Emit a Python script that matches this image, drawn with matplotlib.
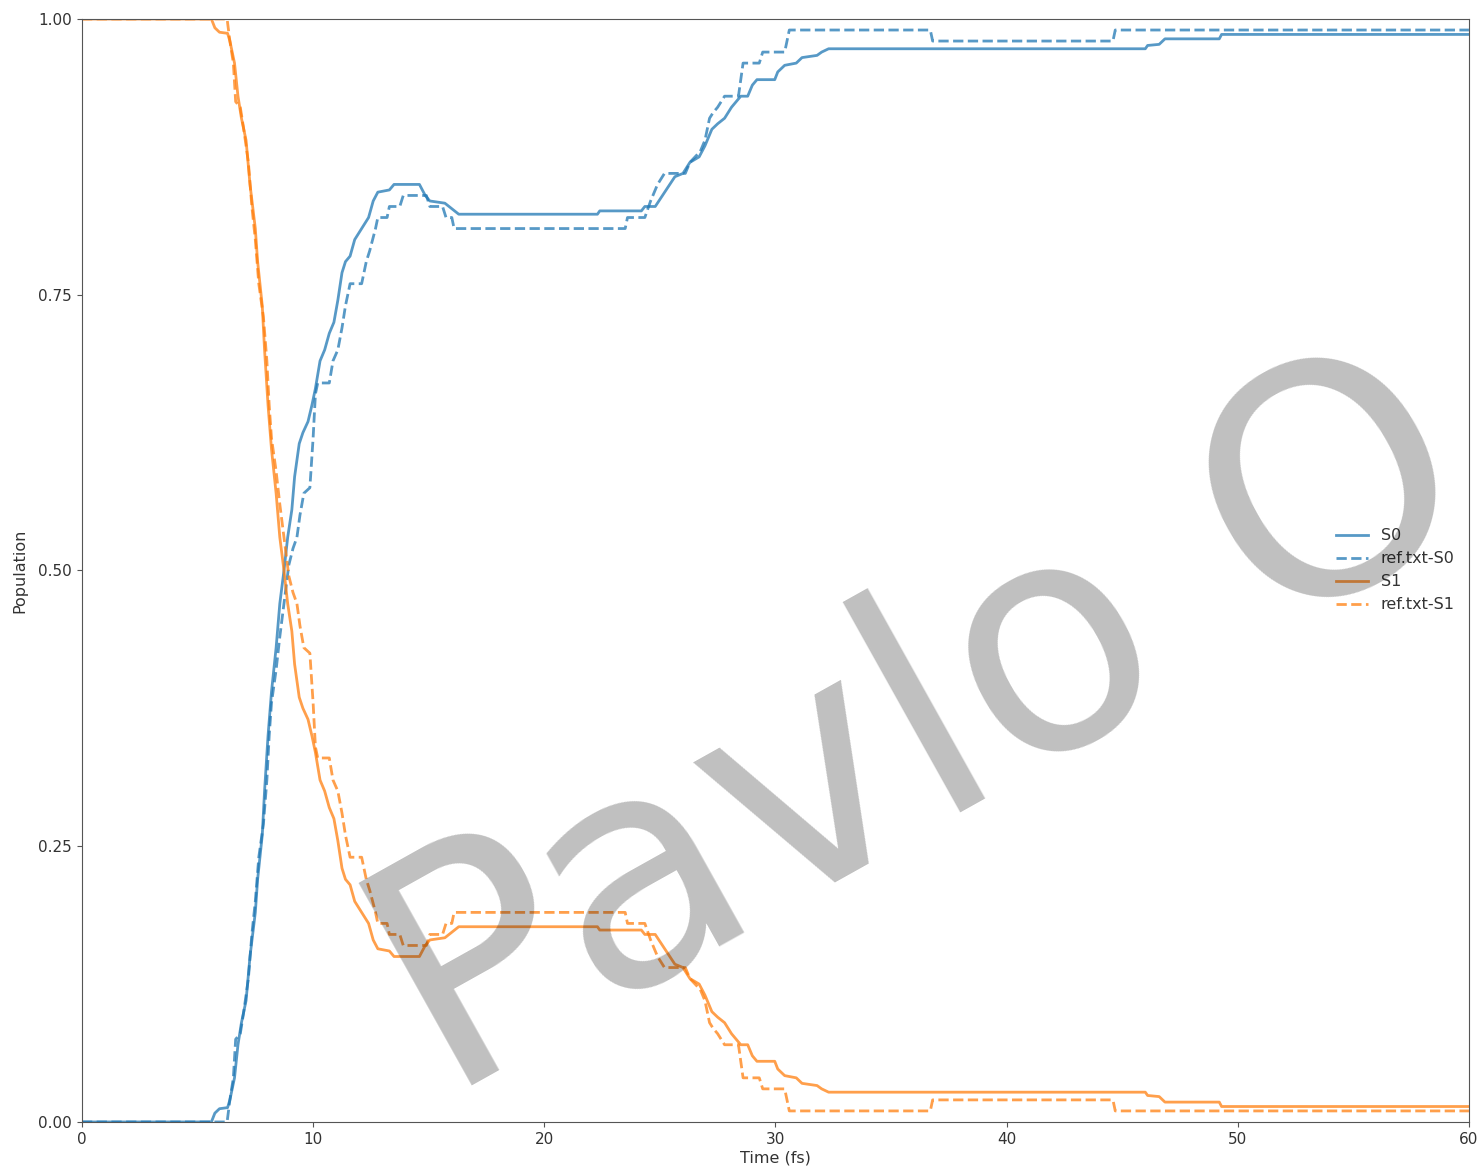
import matplotlib
matplotlib.use("Agg")
import matplotlib.pyplot as plt
from matplotlib.ticker import FormatStrFormatter

# ---- data ----
t_s = [0, 5.6, 5.75, 5.95, 6.3, 6.4, 6.6, 6.75, 6.9, 7.1,
       7.27, 7.5, 7.6, 7.8, 7.9, 8.05, 8.2, 8.4, 8.56, 8.74,
       8.9, 9.08, 9.2, 9.4, 9.56, 9.78, 9.95, 10.1, 10.3, 10.5,
       10.7, 10.9, 11.07, 11.25, 11.4, 11.6, 11.8, 12.1, 12.4, 12.6,
       12.8, 13.3, 13.5, 14.6, 14.85, 15.05, 15.7, 16.0, 16.3, 22.3,
       22.4, 24.2, 24.35, 24.8, 25.65, 26.0, 26.3, 26.7, 26.95, 27.25,
       27.5, 27.8, 28.1, 28.5, 28.8, 29.0, 29.2, 29.97, 30.1, 30.4,
       30.9, 31.15, 31.8, 32.0, 32.3, 46.0, 46.1, 46.6, 46.85, 49.2,
       49.3, 60]
s0 = [0, 0, 0.008, 0.012, 0.013, 0.02, 0.04, 0.07, 0.09, 0.11,
      0.15, 0.19, 0.22, 0.26, 0.30, 0.35, 0.39, 0.43, 0.47, 0.50,
      0.53, 0.555, 0.585, 0.615, 0.625, 0.635, 0.65, 0.665, 0.69, 0.70,
      0.715, 0.725, 0.745, 0.77, 0.78, 0.785, 0.80, 0.81, 0.82, 0.835,
      0.843, 0.845, 0.85, 0.85, 0.84, 0.835, 0.833, 0.828, 0.823, 0.823,
      0.826, 0.826, 0.83, 0.83, 0.857, 0.86, 0.87, 0.875, 0.885, 0.90,
      0.905, 0.91, 0.92, 0.93, 0.93, 0.94, 0.945, 0.945, 0.952, 0.958,
      0.96, 0.965, 0.967, 0.97, 0.973, 0.973, 0.976, 0.977, 0.982, 0.982,
      0.986, 0.986]
s1 = [1, 1, 0.992, 0.988, 0.987, 0.98, 0.96, 0.93, 0.91, 0.89,
      0.85, 0.81, 0.78, 0.74, 0.70, 0.65, 0.61, 0.57, 0.53, 0.50,
      0.47, 0.445, 0.415, 0.385, 0.375, 0.365, 0.35, 0.335, 0.31, 0.30,
      0.285, 0.275, 0.255, 0.23, 0.22, 0.215, 0.20, 0.19, 0.18, 0.165,
      0.157, 0.155, 0.15, 0.15, 0.16, 0.165, 0.167, 0.172, 0.177, 0.177,
      0.174, 0.174, 0.17, 0.17, 0.143, 0.14, 0.13, 0.125, 0.115, 0.10,
      0.095, 0.09, 0.08, 0.07, 0.07, 0.06, 0.055, 0.055, 0.048, 0.042,
      0.04, 0.035, 0.033, 0.03, 0.027, 0.027, 0.024, 0.023, 0.018, 0.018,
      0.014, 0.014]

t_ref = [0, 6.28, 6.4, 6.55, 6.65, 6.85, 7.0, 7.2, 7.35, 7.5,
         7.65, 7.85, 8.0, 8.1, 8.2, 8.4, 8.56, 8.74, 8.95, 9.13,
         9.3, 9.43, 9.6, 9.86, 10.0, 10.1, 10.2, 10.7, 10.86, 11.07,
         11.25, 11.4, 11.6, 12.1, 12.3, 12.45, 12.7, 12.8, 13.2, 13.3,
         13.75, 13.9, 14.9, 15.05, 15.6, 15.75, 16.0, 16.1, 23.5, 23.6,
         24.35, 24.6, 24.9, 25.2, 26.1, 26.3, 26.75, 26.95, 27.15, 27.3,
         27.5, 27.8, 28.4, 28.6, 29.3, 29.45, 30.4, 30.6, 36.7, 36.8,
         44.6, 44.7, 60]
ref_s0 = [0, 0, 0.02, 0.04, 0.075, 0.08, 0.10, 0.13, 0.17, 0.20,
          0.24, 0.27, 0.31, 0.35, 0.38, 0.41, 0.44, 0.47, 0.505, 0.52,
          0.53, 0.55, 0.57, 0.575, 0.62, 0.66, 0.67, 0.67, 0.69, 0.70,
          0.72, 0.74, 0.76, 0.76, 0.78, 0.79, 0.81, 0.82, 0.82, 0.83,
          0.83, 0.84, 0.84, 0.83, 0.83, 0.82, 0.82, 0.81, 0.81, 0.82,
          0.82, 0.835, 0.85, 0.86, 0.86, 0.87, 0.88, 0.89, 0.91, 0.915,
          0.92, 0.93, 0.93, 0.96, 0.96, 0.97, 0.97, 0.99, 0.99, 0.98,
          0.98, 0.99, 0.99]
ref_s1 = [1, 1, 0.98, 0.96, 0.925, 0.92, 0.90, 0.87, 0.83, 0.80,
          0.76, 0.73, 0.69, 0.65, 0.62, 0.59, 0.56, 0.53, 0.495, 0.48,
          0.47, 0.45, 0.43, 0.425, 0.38, 0.34, 0.33, 0.33, 0.31, 0.30,
          0.28, 0.26, 0.24, 0.24, 0.22, 0.21, 0.19, 0.18, 0.18, 0.17,
          0.17, 0.16, 0.16, 0.17, 0.17, 0.18, 0.18, 0.19, 0.19, 0.18,
          0.18, 0.165, 0.15, 0.14, 0.14, 0.13, 0.12, 0.11, 0.09, 0.085,
          0.08, 0.07, 0.07, 0.04, 0.04, 0.03, 0.03, 0.01, 0.01, 0.02,
          0.02, 0.01, 0.01]

x_ticks = [0, 10, 20, 30, 40, 50, 60]
y_ticks = [0.0, 0.25, 0.5, 0.75, 1.0]
labels = ["S0", "ref.txt-S0", "S1", "ref.txt-S1"]
watermark = "Pavlo O"

# ---- figure ----
plt.rcParams['font.family'] = ['DejaVu Sans']
fig = plt.figure(figsize=(14.79, 11.72), dpi=100)
ax = fig.add_axes([0.0554, 0.0427, 0.9378, 0.9411])

blue = "tab:blue"
orange = "tab:orange"
lw = 2.0
ax.plot(t_s, s0, color=blue, lw=lw, alpha=0.75, label=labels[0])
ax.plot(t_ref, ref_s0, color=blue, lw=lw, alpha=0.75, ls="--", label=labels[1])
ax.plot(t_s, s1, color=orange, lw=lw, alpha=0.75, label=labels[2])
ax.plot(t_ref, ref_s1, color=orange, lw=lw, alpha=0.75, ls="--", label=labels[3])

ax.set_xlim(0, 60)
ax.set_ylim(0, 1)
ax.set_xticks(x_ticks)
ax.set_yticks(y_ticks)
ax.yaxis.set_major_formatter(FormatStrFormatter('%.2f'))

txtc = "#333333"
for sp in ax.spines.values():
    sp.set_color("#555555")
ax.tick_params(colors="#555555", labelcolor=txtc, labelsize=11)
ax.set_xlabel("Time (fs)", fontsize=11.5, color=txtc, labelpad=3)
ax.set_ylabel("Population", fontsize=11.5, color=txtc, labelpad=8)

leg = ax.legend(loc="center right", frameon=False, fontsize=11.5)
for t in leg.get_texts():
    t.set_color(txtc)

ax.text(0.2615, 0.0195, watermark, transform=ax.transAxes, fontsize=229,
        color="black", alpha=0.25, rotation=29.2, rotation_mode="anchor",
        ha="left", va="baseline", zorder=10)

fig.savefig("out.png", dpi=100)
